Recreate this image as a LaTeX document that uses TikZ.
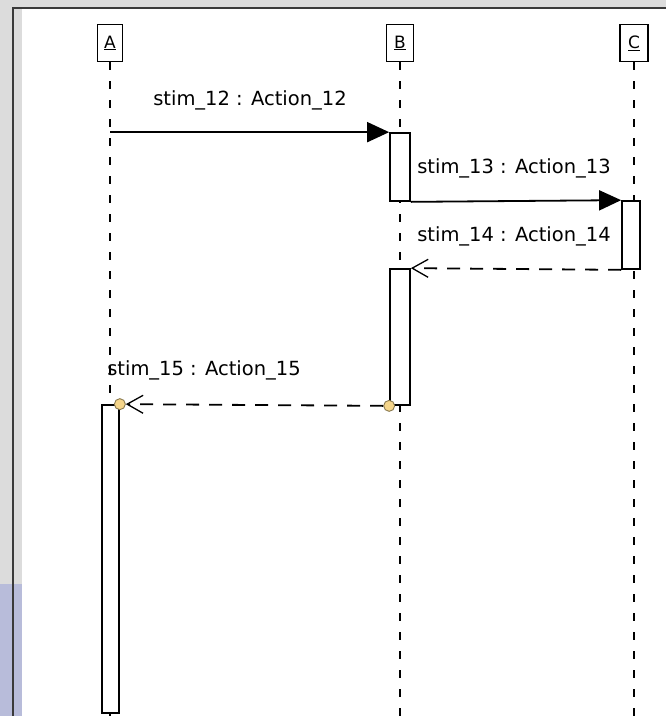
\documentclass[tikz,border=0pt]{standalone}
\usepackage{fontspec}
\setmainfont{DejaVu Sans}
\usetikzlibrary{arrows.meta}
\definecolor{bggray}{HTML}{DCDCDC}
\definecolor{sidebl}{HTML}{B8BCDA}
\definecolor{framec}{HTML}{3A3A3A}
\definecolor{circfill}{HTML}{F5D58A}
\definecolor{circdraw}{HTML}{8A7A50}
\tikzset{
  obj/.style={draw=black, line width=1.6pt, fill=white, minimum height=37pt, inner sep=0pt, font=\fontsize{17}{19}\selectfont},
  life/.style={draw=black, line width=2pt, dash pattern=on 8pt off 11pt},
  actbox/.style={draw=black, line width=1.7pt, fill=white, inner sep=0pt, minimum width=19pt},
  msg/.style={draw=black, line width=1.8pt},
  retmsg/.style={draw=black, line width=1.8pt, dash pattern=on 13pt off 10pt},
  lbl/.style={font=\fontsize{19.5}{22}\selectfont, inner sep=0pt},
  dot/.style={circle, draw=circdraw, fill=circfill, line width=0.9pt, minimum size=11pt, inner sep=0pt},
}
\begin{document}
\begin{tikzpicture}[x=1pt,y=-1pt]
\useasboundingbox (0,0) rectangle (666,716);
\fill[bggray] (0,0) rectangle (666,716);
\fill[white] (22,9) rectangle (666,716);
\fill[sidebl] (0,584) rectangle (22,716);
\draw[framec, line width=1.8pt] (13,716) -- (13,8) -- (666,8);

% objects
\node[obj, minimum width=25pt] (A) at (110,43) {\underline{A}};
\node[obj, minimum width=27pt] (B) at (400,43) {\underline{B}};
\node[obj, minimum width=28pt] (C) at (634,43) {\underline{C}};
\coordinate (Aend) at (110,716);
\coordinate (Bend) at (400,716);
\coordinate (Cend) at (634,716);

% lifelines
\draw[life] (A.south) -- (Aend);
\draw[life] (B.south) -- (Bend);
\draw[life] (C.south) -- (Cend);

% activations
\node[actbox, minimum width=20pt, minimum height=68pt] (b1) at (400,167) {};
\node[actbox, minimum width=18pt, minimum height=68pt] (c1) at (631,235) {};
\node[actbox, minimum width=20pt, minimum height=136pt] (b2) at (400,337) {};
\node[actbox, minimum width=17pt, minimum height=308pt] (a1) at (110.5,559) {};

% messages
\draw[msg, -{Triangle[length=22pt,width=20pt]}] (A.south |- b1.north) -- (b1.north west);
\node[lbl] (l1) at (250,100) {stim\_12 : Action\_12};

\draw[msg, -{Triangle[length=22pt,width=20pt]}] (b1.south east) -- (c1.north west);
\node[lbl] (l2) at (514,168) {stim\_13 : Action\_13};

\draw[retmsg, -{Straight Barb[length=16pt,width=18pt,line width=1.3pt]}] (c1.south west) -- (b2.north east);
\node[lbl] (l3) at (514,236) {stim\_14 : Action\_14};

\node[dot] (d2) at (b2.south west) {};
\node[dot] (d1) at (a1.north east) {};
\draw[retmsg, -{Straight Barb[length=16pt,width=18pt,line width=1.3pt]}] (d2.west) -- (d1.east);
\node[lbl] (l4) at (204,370) {stim\_15 : Action\_15};
\end{tikzpicture}
\end{document}
